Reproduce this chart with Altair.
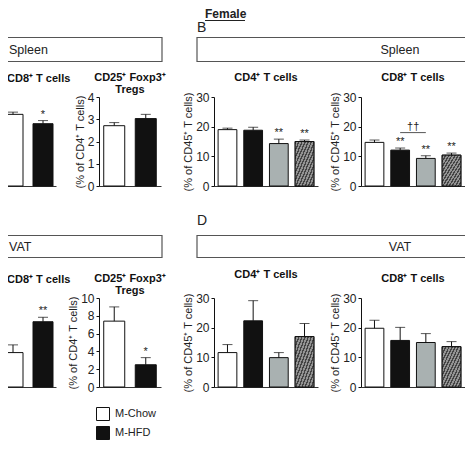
import altair as alt
import pandas as pd

FONT = "Liberation Sans"
INK = "#111111"
NBSP = "\u00a0"

# ---------------- labels ----------------
sex_label = "Female"
panel_letters = ["B", "D"]
tissues = ["Spleen", "VAT"]
y_cd45 = "(% of CD45\u207a T cells)"
y_cd4 = "(% of CD4\u207a T cells)"
t_cd8 = ["CD8\u207a T cells", NBSP]
t_cd4 = ["CD4\u207a T cells", NBSP]
t_treg = ["CD25\u207a Foxp3\u207a", "Tregs"]

groups_m = ["M-Chow", "M-HFD"]
groups_f = ["Chow/Chow", "HFD/Chow", "Chow/HFD", "HFD/HFD"]
fills_m = ["#ffffff", "#111111"]
fills_f = ["#ffffff", "#111111", "#a9b1b1", "#777777"]
hatched_group = "HFD/HFD"

# ---------------- values (mean, top of error bar, significance) ----------------
spl_cd8_m = [16.1, 14.0]
spl_cd8_m_err = [16.6, 14.7]
spl_cd8_m_sig = ["", "*"]

spl_treg_m = [2.71, 3.03]
spl_treg_m_err = [2.85, 3.22]
spl_treg_m_sig = ["", ""]

spl_cd4_f = [19.0, 18.8, 14.3, 15.0]
spl_cd4_f_err = [19.5, 19.8, 15.8, 15.5]
spl_cd4_f_sig = ["", "", "**", "**"]

spl_cd8_f = [14.7, 12.1, 9.3, 10.4]
spl_cd8_f_err = [15.5, 12.8, 10.2, 11.1]
spl_cd8_f_sig = ["", "**", "**", "**"]
spl_cd8_f_bracket = {"from": "HFD/Chow", "to": "Chow/HFD", "y": 18.0, "label": "\u2020\u2020"}

vat_cd8_m = [11.6, 22.0]
vat_cd8_m_err = [14.2, 23.5]
vat_cd8_m_sig = ["", "**"]

vat_treg_m = [7.4, 2.5]
vat_treg_m_err = [9.0, 3.3]
vat_treg_m_sig = ["", "*"]

vat_cd4_f = [11.6, 22.3, 9.9, 17.0]
vat_cd4_f_err = [14.3, 29.1, 11.6, 21.4]
vat_cd4_f_sig = ["", "", "", ""]

vat_cd8_f = [19.8, 15.7, 15.0, 13.6]
vat_cd8_f_err = [22.5, 20.1, 18.0, 15.3]
vat_cd8_f_sig = ["", "", "", ""]

# ---------------- hatch-like fill ----------------
stops = []
NS = 12
for i in range(NS):
    a, b, c = i / NS, (i + 0.45) / NS, (i + 1) / NS
    stops += [
        alt.GradientStop(offset=a, color="#444444"),
        alt.GradientStop(offset=b, color="#444444"),
        alt.GradientStop(offset=b, color="#939393"),
        alt.GradientStop(offset=c, color="#939393"),
    ]
HATCH = alt.LinearGradient(gradient="linear", stops=stops, x1=0, y1=0, x2=1, y2=1)

ROW_H = 89
HIDDEN_VIEW = alt.ViewBackground(strokeOpacity=0, fillOpacity=0, strokeWidth=0)


def spacer(w, h=1):
    return alt.Chart(alt.Data(values=[{"a": 0}])).mark_rect(opacity=0).encode(
        x=alt.value(0), x2=alt.value(0), y=alt.value(0), y2=alt.value(0)
    ).properties(width=w, height=h, view=HIDDEN_VIEW)


def panel(title, groups, fills, vals, errs, sigs, ymax, yticks, ytitle, width,
          show_axis=True, pad_outer=0.2, anchor="middle", legend=None,
          bracket=None, hatched=None, title_offset=-4, title_dx=0):
    df = pd.DataFrame({"group": groups, "value": vals, "err": errs, "sig": sigs})
    n = len(groups)
    pin = 1 / 3 if n == 2 else 0.27
    xenc = alt.X("group:N", sort=groups,
                 scale=alt.Scale(domain=groups, paddingInner=pin, paddingOuter=pad_outer),
                 axis=alt.Axis(title=None, labels=False, ticks=False, domain=True,
                               domainColor="#333333", grid=False))
    if show_axis:
        yaxis = alt.Axis(values=yticks, title=ytitle, titleFontSize=11, titleFontWeight="normal",
                         titleColor="#222222", labelFontSize=12, labelColor="#222222",
                         tickSize=3, tickColor=INK, domainColor=INK, grid=False,
                         labelPadding=2, titlePadding=2)
    else:
        yaxis = None
    yscale = alt.Scale(domain=[0, ymax], nice=False)

    def Y(f):
        return alt.Y(f, scale=yscale, axis=yaxis)

    base = alt.Chart(df).encode(x=xenc)
    bars = base.mark_bar(stroke=INK, strokeWidth=1).encode(
        y=Y("value:Q"),
        fill=alt.Fill("group:N", scale=alt.Scale(domain=groups, range=fills), legend=legend),
    )
    layers = [bars]
    if hatched:
        layers.append(base.transform_filter(alt.datum.group == hatched)
                      .mark_bar(fill=HATCH, stroke=INK, strokeWidth=1)
                      .encode(y=Y("value:Q")))
    layers.append(base.mark_rule(color=INK, strokeWidth=1).encode(y=Y("value:Q"), y2="err:Q"))
    layers.append(base.mark_tick(color=INK, size=10, thickness=1).encode(y=Y("err:Q")))
    layers.append(base.mark_text(baseline="bottom", dy=-1, fontSize=11, color="#222222")
                  .encode(y=Y("err:Q"), text="sig:N"))
    if bracket:
        bdf = pd.DataFrame([bracket])
        bb = alt.Chart(bdf)
        layers.append(bb.mark_rule(color="#555555", strokeWidth=1).encode(
            x=alt.X("from:N", scale=alt.Scale(domain=groups)), x2="to:N", y=Y("y:Q")))
        layers.append(bb.mark_text(baseline="bottom", dx=13, dy=-1, fontSize=11, color="#222222").encode(
            x=alt.X("from:N", scale=alt.Scale(domain=groups)), y=Y("y:Q"), text="label:N"))
    return alt.layer(*layers).properties(
        width=width, height=ROW_H, view=HIDDEN_VIEW,
        title=alt.TitleParams(text=title, fontSize=11, fontWeight="bold", anchor=anchor,
                              offset=title_offset, lineHeight=12.5, color=INK, dx=title_dx),
    )


def box_left(label, width, height, y0, y1):
    d = alt.Data(values=[{"label": label}])
    rect = alt.Chart(d).mark_rect(fillOpacity=0, stroke="#555555", strokeWidth=1.2).encode(
        x=alt.value(0.6), x2=alt.value(162), y=alt.value(y0), y2=alt.value(y1))
    txt = alt.Chart(d).mark_text(align="left", baseline="middle", fontSize=12.5, color="#222222").encode(
        x=alt.value(9), y=alt.value((y0 + y1) / 2), text="label:N")
    return alt.layer(rect, txt).properties(width=width, height=height, view=HIDDEN_VIEW)


def box_right(label, letter, width, height, y0, y1, letter_y, header=None):
    d = alt.Data(values=[{"label": label, "letter": letter, "header": header or ""}])
    rect = alt.Chart(d).mark_rect(fillOpacity=0, stroke="#555555", strokeWidth=1.2).encode(
        x=alt.value(-17), x2=alt.value(256), y=alt.value(y0), y2=alt.value(y1))
    txt = alt.Chart(d).mark_text(align="center", baseline="middle", fontSize=12.5, color="#222222").encode(
        x=alt.value(186), y=alt.value((y0 + y1) / 2), text="label:N")
    let = alt.Chart(d).mark_text(align="left", baseline="middle", fontSize=14, color="#222222").encode(
        x=alt.value(-17), y=alt.value(letter_y), text="letter:N")
    layers = [rect, txt, let]
    if header:
        layers.append(alt.Chart(d).mark_text(align="left", baseline="middle", fontSize=12,
                                             fontWeight="bold", color="#222222").encode(
            x=alt.value(-9), y=alt.value(14), text="header:N"))
        layers.append(alt.Chart(d).mark_rule(color="#222222", strokeWidth=1).encode(
            x=alt.value(-9), x2=alt.value(31), y=alt.value(20.5)))
    return alt.layer(*layers).properties(width=width, height=height, view=HIDDEN_VIEW)


W0, W1, W2, W3, W4, W5, W6 = 56, 5, 62, 15, 104, 5, 104

row1 = [box_left(tissues[0], W0, 97, 37.5, 61.5), spacer(W1), spacer(W2), spacer(W3),
        box_right(tissues[0], panel_letters[0], W4, 97, 37.5, 61.5, 28, header=sex_label),
        spacer(W5), spacer(W6)]

row2 = [
    panel(t_cd8, groups_m, fills_m, spl_cd8_m, spl_cd8_m_err, spl_cd8_m_sig, 20, [0, 5, 10, 15, 20],
          y_cd45, W0, show_axis=False, pad_outer=0.1, anchor="start", title_offset=1, title_dx=7),
    spacer(W1),
    panel(t_treg, groups_m, fills_m, spl_treg_m, spl_treg_m_err, spl_treg_m_sig, 4, [0, 1, 2, 3, 4],
          y_cd4, W2, pad_outer=0.15),
    spacer(W3),
    panel(t_cd4, groups_f, fills_f, spl_cd4_f, spl_cd4_f_err, spl_cd4_f_sig, 30, [0, 10, 20, 30],
          y_cd45, W4, pad_outer=0.16, hatched=hatched_group),
    spacer(W5),
    panel(t_cd8, groups_f, fills_f, spl_cd8_f, spl_cd8_f_err, spl_cd8_f_sig, 30, [0, 10, 20, 30],
          y_cd45, W6, pad_outer=0.16, hatched=hatched_group, bracket=spl_cd8_f_bracket),
]

row3 = [box_left(tissues[1], W0, 112, 49.5, 71.5), spacer(W1), spacer(W2), spacer(W3),
        box_right(tissues[1], panel_letters[1], W4, 112, 49.5, 71.5, 35),
        spacer(W5), spacer(W6)]

legend = alt.Legend(orient="none", legendX=-3, legendY=109, title=None, symbolType="square",
                    symbolSize=169, symbolStrokeColor=INK, symbolStrokeWidth=1,
                    labelFontSize=11, labelOffset=5, rowPadding=1, padding=0, labelColor="#222222")

row4 = [
    panel(t_cd8, groups_m, fills_m, vat_cd8_m, vat_cd8_m_err, vat_cd8_m_sig, 30, [0, 10, 20, 30],
          y_cd45, W0, show_axis=False, pad_outer=0.1, anchor="start", title_offset=1, title_dx=7),
    spacer(W1),
    panel(t_treg, groups_m, fills_m, vat_treg_m, vat_treg_m_err, vat_treg_m_sig, 10, [0, 2, 4, 6, 8, 10],
          y_cd4, W2, pad_outer=0.15, legend=legend),
    spacer(W3),
    panel(t_cd4, groups_f, fills_f, vat_cd4_f, vat_cd4_f_err, vat_cd4_f_sig, 30, [0, 10, 20, 30],
          y_cd45, W4, pad_outer=0.16, hatched=hatched_group),
    spacer(W5),
    panel(t_cd8, groups_f, fills_f, vat_cd8_f, vat_cd8_f_err, vat_cd8_f_sig, 30, [0, 10, 20, 30],
          y_cd45, W6, pad_outer=0.16, hatched=hatched_group),
]

charts = row1 + row2 + row3 + row4

chart = alt.concat(
    *charts, columns=7, spacing={"row": 0, "column": 19}, bounds="flush", align="each"
).resolve_scale(fill="independent").resolve_legend(fill="independent").properties(
    padding={"left": -8, "top": -8, "right": -6, "bottom": 0}
).configure(
    font=FONT, background="white",
    view=alt.ViewConfig(stroke="transparent", strokeWidth=0),
)

chart.save("out.html", embed_options={"renderer": "svg", "actions": False})
